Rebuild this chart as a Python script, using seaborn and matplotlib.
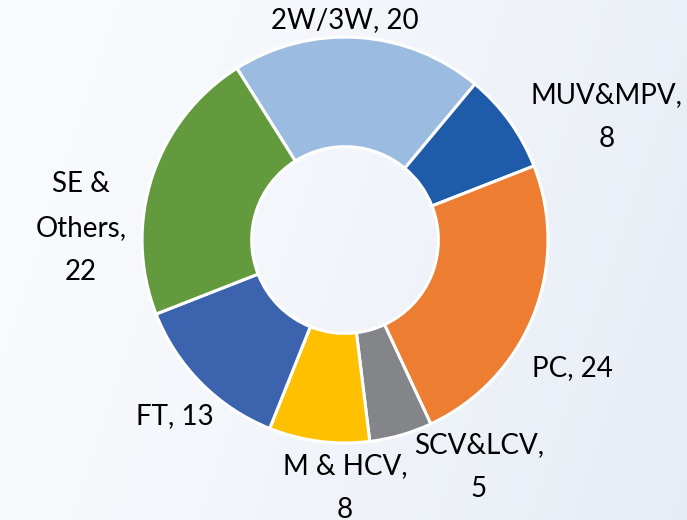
import numpy as np
import matplotlib.pyplot as plt
import seaborn as sns

# segment shares
categories = ["2W/3W", "MUV&MPV", "PC", "SCV&LCV", "M & HCV", "FT", "SE & Others"]
values = [20, 8, 24, 5, 8, 13, 22]
label_texts = ["2W/3W, 20", "MUV&MPV,\n8", "PC, 24", "SCV&LCV,\n5",
               "M & HCV,\n8", "FT, 13", "SE &\nOthers,\n22"]

colors = ["#9BBBE0", "#1E5BA9", "#ED7D31", "#848588", "#FFC000", "#3C63AD", "#639A3E"]
# label centres in pie-radius units
label_pos = [(0.0, 1.085), (1.29, 0.605), (1.12, -0.63), (0.66, -1.12),
             (0.0, -1.22), (-0.84, -0.865), (-1.30, 0.06)]

sns.set_theme(style="white")
plt.rcParams['font.family'] = ['Lato', 'DejaVu Sans']

fig = plt.figure(figsize=(6.87, 5.2), dpi=100)

# soft background gradient
bg = fig.add_axes([0, 0, 1, 1], zorder=0)
gx = np.linspace(0, 1, 256)
gy = np.linspace(0, 1, 256)
GX, GY = np.meshgrid(gx, gy)
t = np.clip(0.8 * GX + 0.2 * GY, 0, 1) ** 1.3
c0 = np.array([0.978, 0.985, 0.995])
c1 = np.array([0.905, 0.925, 0.960])
img = c0[None, None, :] * (1 - t[..., None]) + c1[None, None, :] * t[..., None]
bg.imshow(img, aspect='auto', extent=[0, 1, 0, 1], origin='upper')
bg.axis('off')

ax = fig.add_axes([0, 0, 1, 1], zorder=1)
ax.patch.set_alpha(0)
ax.pie(values, colors=colors, startangle=122.2, counterclock=False,
       radius=1.0, wedgeprops=dict(width=0.54, edgecolor='white', linewidth=2.2))

for txt, (x, y) in zip(label_texts, label_pos):
    ax.text(x, y, txt, ha='center', va='center', fontsize=20,
            color='black', linespacing=1.85)

ax.set_xlim(-1.70, 1.685)
ax.set_ylim(-1.379, 1.182)
ax.set_aspect('equal')
ax.axis('off')

fig.savefig("out.png", dpi=100)
